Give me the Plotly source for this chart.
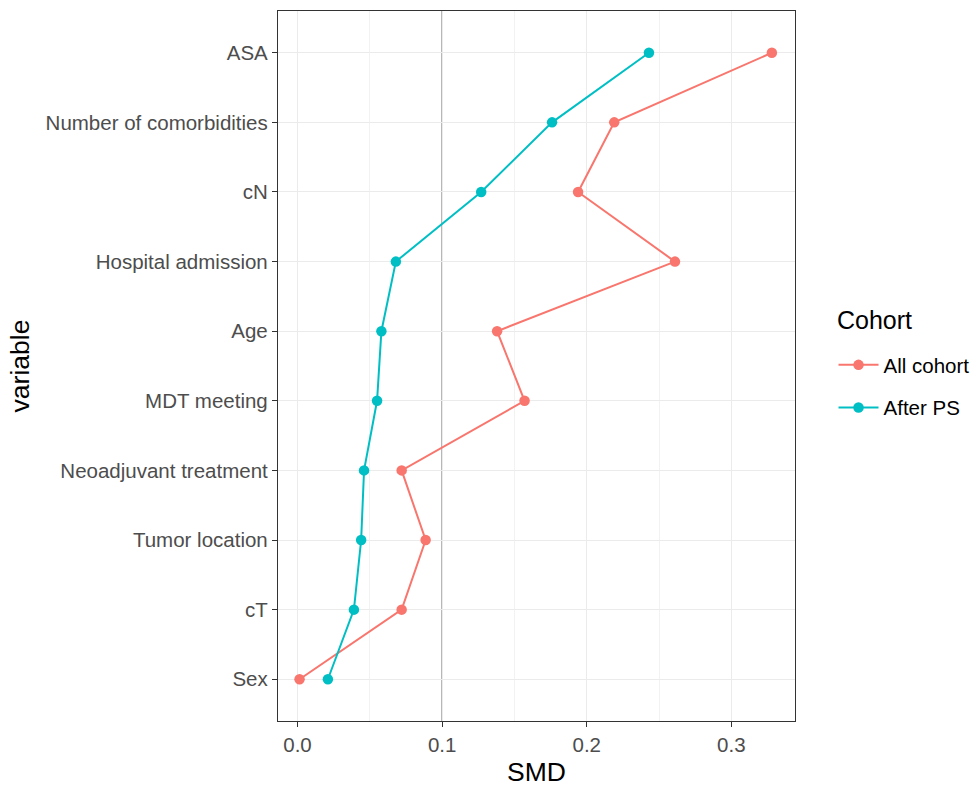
import plotly.graph_objects as go

variables = ["Sex", "cT", "Tumor location", "Neoadjuvant treatment", "MDT meeting",
             "Age", "Hospital admission", "cN", "Number of comorbidities", "ASA"]
all_cohort = [0.0014, 0.072, 0.0886, 0.072, 0.157, 0.138, 0.261, 0.194, 0.219, 0.328]
after_ps = [0.021, 0.039, 0.044, 0.046, 0.055, 0.058, 0.068, 0.127, 0.176, 0.243]
x_ticks = [0.0, 0.1, 0.2, 0.3]
x_tick_labels = ["0.0", "0.1", "0.2", "0.3"]

FONT = "Liberation Sans, Arial, sans-serif"

fig = go.Figure()
fig.add_trace(go.Scatter(x=all_cohort, y=variables, mode="lines+markers", name="All cohort",
                         legendgroup="a",
                         line=dict(color="#F8766D", width=2),
                         marker=dict(color="#F8766D", size=10.5)))
fig.add_trace(go.Scatter(x=after_ps, y=variables, mode="lines+markers", name="After PS",
                         legendgroup="b",
                         line=dict(color="#00BFC4", width=2),
                         marker=dict(color="#00BFC4", size=10.5)))

fig.add_shape(type="line", x0=0.1, x1=0.1, y0=0, y1=1, xref="x", yref="paper",
              line=dict(color="#7f7f7f", width=1.4), layer="below")

fig.add_annotation(text="Cohort", xref="paper", yref="paper", x=1.0774, y=0.5648,
                   xanchor="left", yanchor="middle", showarrow=False,
                   font=dict(size=25, color="#000", family=FONT))

fig.update_layout(
    width=979, height=787,
    margin=dict(l=278, r=184, t=11, b=66),
    paper_bgcolor="white", plot_bgcolor="white",
    font=dict(family=FONT, color="#000000"),
    hovermode=False,
    showlegend=True,
    legend=dict(font=dict(size=20.5, color="#000"),
                xref="container", yref="container",
                x=0.8514, xanchor="left", y=0.5616, yanchor="top",
                traceorder="grouped", tracegroupgap=13, itemwidth=40),
    xaxis=dict(range=[-0.0135, 0.344], tickvals=x_ticks, ticktext=x_tick_labels,
               automargin=False,
               showgrid=True, gridcolor="#EBEBEB", gridwidth=1.3,
               minor=dict(dtick=0.05, tick0=0.05, showgrid=True, gridcolor="#F2F2F2", gridwidth=0.8),
               ticks="outside", ticklen=5, tickcolor="#333333", tickwidth=1.3,
               tickfont=dict(size=20.5, color="#4D4D4D"),
               title=dict(text="SMD", font=dict(size=26.5, color="#000"), standoff=8),
               showline=True, linecolor="#333333", linewidth=1.3, mirror=True,
               zeroline=False),
    yaxis=dict(type="category", categoryorder="array", categoryarray=variables,
               range=[-0.6, 9.6], automargin=False,
               showgrid=True, gridcolor="#EBEBEB", gridwidth=1.3,
               ticks="outside", ticklen=5, tickcolor="#333333", tickwidth=1.3,
               tickfont=dict(size=20.5, color="#4D4D4D"),
               title=dict(text="variable", font=dict(size=26.5, color="#000"), standoff=8),
               showline=True, linecolor="#333333", linewidth=1.3, mirror=True,
               zeroline=False),
)

fig.write_html("out.html", config={"displayModeBar": False},
               post_script="document.body.style.margin='0px';")
